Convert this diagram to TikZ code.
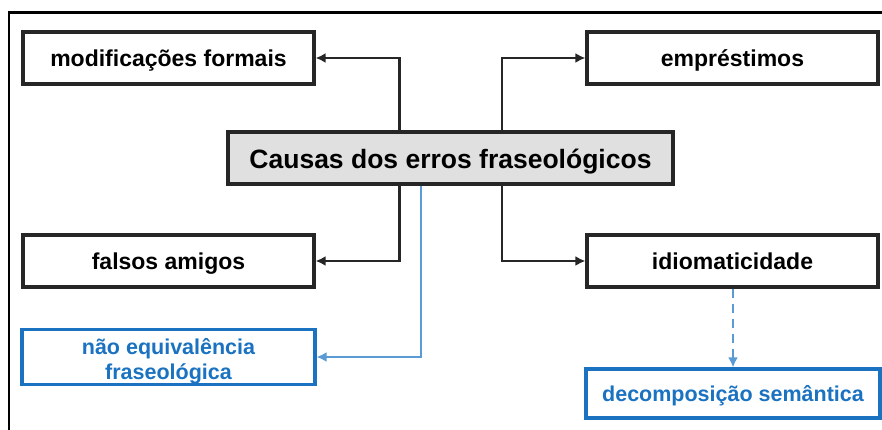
\documentclass[tikz,border=0pt]{standalone}
\usepackage{fontspec}
\setmainfont{Liberation Sans}
\usepackage{tikz}
\usetikzlibrary{calc,positioning,arrows,arrows.meta}
\definecolor{causeblue}{HTML}{1A72C0}
\definecolor{linkblue}{HTML}{5B9BD5}
\definecolor{causegray}{HTML}{E0E0E0}
\tikzstyle{cause} = [draw=black!85,line width=3.2pt,minimum width=291pt,minimum height=52pt,inner sep=0pt,text height=20pt,text depth=2pt,font=\fontsize{23}{26}\selectfont\bfseries]
\tikzstyle{maincause} = [cause,fill=causegray,minimum width=445pt,text height=23pt,text depth=2.5pt,font=\fontsize{26.5}{30}\selectfont\bfseries]
\tikzstyle{subcause} = [draw=causeblue,text=causeblue,line width=3.2pt,minimum width=293pt,minimum height=50pt,inner sep=0pt,align=center,font=\fontsize{21.5}{25}\selectfont\bfseries]
\tikzstyle{link} = [->,line width=2.2pt,arrows={-{Latex[length=10pt,width=10pt]}},draw=black!85]
\tikzstyle{bluelink} = [->,line width=2.2pt,arrows={-{Latex[length=10pt,width=10pt]}},draw=linkblue]
\tikzstyle{bluedashed} = [bluelink,dashed,dash pattern=on 9pt off 6pt]

\begin{document}
\begin{tikzpicture}[x=1pt,y=1pt]
  \useasboundingbox (0,0) rectangle (882,430);
  \draw[line width=2.6pt] (9,0) -- (9,417.5) -- (882,417.5);

  \node (causas)[maincause] at (450.5,272) {Causas dos erros fraseológicos};
  \node (mod)[cause] at (168.5,372) {modificações formais};
  \node (emp)[cause] at (732.5,372) {empréstimos};
  \node (falsos)[cause] at (168.5,169) {falsos amigos};
  \node (idio)[cause] at (732.5,169) {idiomaticidade};
  \node (naoeq)[subcause] at (168.5,73) {\rule{0pt}{25pt}não equivalência\\fraseológica};
  \node (decomp)[subcause,minimum width=294pt,minimum height=49pt,text height=19pt,text depth=2pt] at (733,36.5) {decomposição semântica};

  \coordinate (jl) at (399.5,0);
  \coordinate (jr) at (502,0);
  \coordinate (jb) at (421,0);

  \draw[link] (causas.north -| jl) |- (mod);
  \draw[link] (causas.north -| jr) |- (emp);
  \draw[link] (causas.south -| jl) |- (falsos);
  \draw[link] (causas.south -| jr) |- (idio);
  \draw[bluelink] (causas.south -| jb) |- (naoeq);
  \draw[bluedashed] (idio.south -| decomp.north) -- (decomp.north);
\end{tikzpicture}
\end{document}
